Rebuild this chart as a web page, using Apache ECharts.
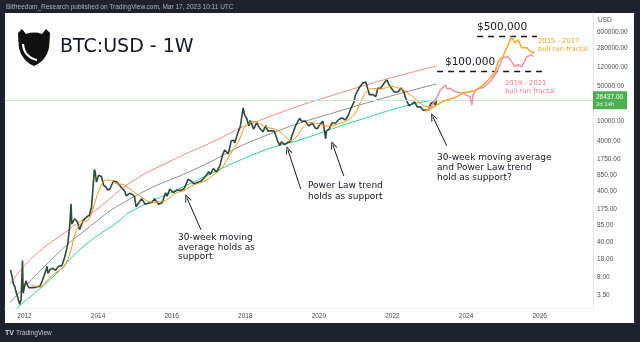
<!DOCTYPE html>
<html><head><meta charset="utf-8">
<script src="https://cdn.jsdelivr.net/npm/echarts@6/dist/echarts.min.js"></script>
<style>html,body{margin:0;padding:0;background:#1e222d;}#c{width:640px;height:342px;}</style>
</head><body><div id="c"></div>
<script>
// ---------- DATA ----------
const xTickYears = [2012, 2014, 2016, 2018, 2020, 2022, 2024, 2026];
const yTickValues = [3.5, 8, 18, 40, 85, 175, 400, 850, 1750, 4000, 10000, 50000, 120000, 280000, 600000];
const currentPrice = 26437;
const priceCountdown = '2d 14h';

const priceData = [
['2011-08-15',11],['2011-08-29',8.5],['2011-09-12',5.8],['2011-09-26',5.2],['2011-10-10',4.0],['2011-10-24',3.2],['2011-11-07',3.0],['2011-11-14',2.3],['2011-11-28',2.8],['2011-12-05',3.0],['2011-12-12',17],['2011-12-19',3.8],
['2012-01-02',5.3],['2012-01-16',6.7],['2012-01-30',5.6],['2012-02-13',4.9],['2012-03-05',4.9],['2012-04-02',4.9],['2012-05-07',5.1],['2012-06-04',5.3],['2012-06-25',6.7],['2012-07-16',8.8],['2012-08-13',13],['2012-08-20',9.5],['2012-09-10',11.2],['2012-10-08',11.9],['2012-11-05',10.9],['2012-12-03',13],
['2013-01-07',13.5],['2013-02-04',20],['2013-03-04',34],['2013-03-25',80],['2013-04-08',230],['2013-04-15',90],['2013-05-13',115],['2013-06-10',100],['2013-07-01',70],['2013-08-05',105],['2013-09-09',125],['2013-10-07',135],['2013-10-28',200],['2013-11-18',700],['2013-11-25',1100],['2013-12-02',1000],['2013-12-16',620],
['2014-01-06',850],['2014-02-03',800],['2014-02-24',540],['2014-03-24',480],['2014-04-07',430],['2014-04-28',450],['2014-06-02',650],['2014-07-07',620],['2014-08-18',490],['2014-09-22',410],['2014-10-06',330],['2014-11-10',370],['2014-12-08',350],['2014-12-29',315],
['2015-01-12',200],['2015-02-02',230],['2015-03-09',290],['2015-04-13',225],['2015-05-18',235],['2015-06-22',245],['2015-07-13',290],['2015-08-24',225],['2015-09-28',240],['2015-11-02',380],['2015-11-16',325],['2015-12-14',450],
['2016-01-18',380],['2016-02-22',430],['2016-03-28',420],['2016-05-02',450],['2016-06-13',700],['2016-07-11',650],['2016-08-08',570],['2016-09-12',610],['2016-10-17',640],['2016-11-14',730],['2016-12-19',900],
['2017-01-02',1000],['2017-01-16',880],['2017-02-20',1150],['2017-03-20',980],['2017-04-24',1300],['2017-05-22',2200],['2017-06-12',2700],['2017-07-17',2250],['2017-08-14',4100],['2017-09-11',4200],['2017-09-18',3700],['2017-10-16',5700],['2017-11-13',8000],['2017-12-11',18500],['2017-12-25',13500],
['2018-01-15',11500],['2018-02-05',8200],['2018-02-19',10400],['2018-03-26',7000],['2018-04-23',9400],['2018-05-21',7500],['2018-06-25',6200],['2018-07-23',8200],['2018-08-13',6400],['2018-09-17',6500],['2018-10-15',6400],['2018-11-19',4000],['2018-12-10',3300],['2018-12-24',3900],
['2019-01-28',3450],['2019-02-25',3800],['2019-03-25',4000],['2019-04-08',5100],['2019-05-13',8000],['2019-06-24',11500],['2019-07-15',10000],['2019-08-19',10200],['2019-09-23',8100],['2019-10-28',9200],['2019-11-25',7400],['2019-12-16',7100],
['2020-01-13',8800],['2020-02-10',10000],['2020-03-09',4500],['2020-03-16',6400],['2020-04-13',7100],['2020-05-11',9300],['2020-06-15',9300],['2020-07-20',11000],['2020-08-17',11700],['2020-09-21',10700],['2020-10-19',13100],['2020-11-16',18400],['2020-12-14',23800],['2020-12-28',33000],
['2021-01-11',36000],['2021-02-08',48000],['2021-02-22',46000],['2021-03-15',58000],['2021-04-12',61000],['2021-05-17',34000],['2021-06-21',34000],['2021-07-19',31000],['2021-08-09',46000],['2021-09-06',45000],['2021-09-20',43000],['2021-10-18',61000],['2021-11-08',66000],['2021-12-06',50000],
['2022-01-03',42000],['2022-01-24',38000],['2022-02-28',38800],['2022-03-28',46000],['2022-04-25',38500],['2022-05-09',30000],['2022-06-13',20500],['2022-07-18',22500],['2022-08-08',24400],['2022-09-05',19300],['2022-10-03',19400],['2022-11-07',16500],['2022-12-05',17100],['2022-12-26',16600],
['2023-01-16',22700],['2023-02-13',24300],['2023-03-06',20500],['2023-03-13',26437]
];

const ma30Data = [
['2012-03-05',5.6],['2012-06-01',5.0],['2012-09-01',7.5],['2012-12-01',10.5],['2013-02-01',13],['2013-04-01',25],['2013-06-01',70],['2013-08-01',100],['2013-10-01',110],['2013-12-01',250],
['2014-01-15',450],['2014-03-01',650],['2014-05-01',680],['2014-07-01',570],['2014-09-01',560],['2014-11-01',470],['2015-01-01',380],['2015-03-01',320],['2015-05-01',260],['2015-07-01',245],['2015-09-01',250],['2015-11-01',265],
['2016-01-01',330],['2016-03-01',390],['2016-05-01',415],['2016-07-01',500],['2016-09-01',570],['2016-11-01',620],['2017-01-01',720],['2017-03-01',880],['2017-05-01',1100],['2017-07-01',1700],['2017-09-01',2700],['2017-11-01',4200],['2017-12-15',7000],
['2018-02-01',9000],['2018-04-01',10000],['2018-06-01',8800],['2018-08-01',7600],['2018-10-01',7200],['2018-12-01',6400],['2019-02-01',5000],['2019-04-01',4100],['2019-06-01',5200],['2019-08-01',7800],['2019-10-01',9500],['2019-12-01',9200],
['2020-02-01',8500],['2020-04-01',8000],['2020-06-01',8400],['2020-08-01',9200],['2020-10-01',10200],['2020-12-01',12500],['2021-01-15',17000],['2021-03-01',27000],['2021-05-01',42000],['2021-07-01',45000],['2021-09-01',44000],['2021-11-01',47000],['2021-12-15',50000],
['2022-02-01',48000],['2022-04-01',44000],['2022-06-01',37000],['2022-08-01',30000],['2022-10-01',23000],['2022-12-01',19800],['2023-02-01',19500],['2023-03-13',20500]
];

const bandTopData = [['2011-08-09',5.8],['2012-03-26',20],['2013-02-26',66],['2014-01-19',198],['2014-11-13',596],['2015-11-14',1490],['2017-03-26',4290],['2018-02-17',8900],['2020-11-07',42500],['2023-03-17',127000]];
const bandMidData = [['2011-08-09',2.43],['2012-09-10',16.6],['2013-08-04',63],['2014-11-13',286],['2016-10-08',1240],['2018-05-26',4700],['2020-11-07',18600],['2023-03-17',55800]];
const bandLowData = [['2011-08-29',1.53],['2011-10-19',1.93],['2012-09-10',7.0],['2013-08-04',31.6],['2014-08-08',109],['2014-11-13',157],['2016-04-23',495],['2018-05-26',2470],['2019-06-28',4290],['2020-11-07',9330],['2022-06-21',21300],['2023-03-17',26800]];

const fractal1921 = [['2022-11-21',16000],['2023-01-08',18500],['2023-03-01',26000],['2023-04-15',40000],['2023-06-06',53000],['2023-07-01',44000],['2023-07-24',46000],['2023-09-01',40000],['2023-10-01',38000],['2023-12-02',37000],['2024-01-10',33000],['2024-02-10',31000],['2024-02-28',21000],['2024-03-10',33000],['2024-03-29',39000],['2024-04-20',44000],['2024-06-18',47000],['2024-08-26',61000],['2024-10-16',84000],['2024-11-14',110000],['2024-12-03',134000],['2025-01-01',184000],['2025-02-21',193000],['2025-03-29',153000],['2025-05-01',122000],['2025-05-30',134000],['2025-07-09',122000],['2025-08-25',193000],['2025-10-16',211000],['2025-10-27',193000]];
const fractal1517 = [['2022-11-21',16000],['2023-01-08',17500],['2023-03-17',21000],['2023-05-01',24000],['2023-06-06',26000],['2023-08-01',28000],['2023-10-01',30800],['2023-12-02',37000],['2024-02-10',38700],['2024-04-20',42500],['2024-06-18',53000],['2024-08-26',72000],['2024-10-16',97000],['2024-11-14',153000],['2024-12-03',170000],['2025-01-01',193000],['2025-02-21',334000],['2025-03-29',482000],['2025-05-01',366000],['2025-05-30',420000],['2025-07-09',291000],['2025-08-25',291000],['2025-10-16',232000],['2025-11-14',243000]];

const targetLevels = [
  {value: 500000, from: '2024-04-20', to: '2025-12-05'},
  {value: 100000, from: '2023-03-20', to: '2026-02-10'}
];
// annotation arrows: tail -> tip (date, price)
const arrows = [
  [['2016-10-19', 69], ['2016-06-01', 299]],
  [['2019-07-05', 453], ['2019-02-28', 2700]],
  [['2020-09-05', 820], ['2020-05-19', 3400]],
  [['2023-06-24', 3250], ['2023-02-06', 12300]]
];

// ---------- HELPERS ----------
function yr(d) {
  const p = d.split('-').map(Number);
  const start = Date.UTC(p[0], 0, 1), end = Date.UTC(p[0] + 1, 0, 1);
  return p[0] + (Date.UTC(p[0], p[1] - 1, p[2]) - start) / (end - start);
}
const toXY = arr => arr.map(r => [yr(r[0]), r[1]]);

// ---------- CHART ----------
const chevron = 'path://M0,10L5,0L10,10L8.6,10L5,2.8L1.4,10Z';
const axisFont = 'Liberation Sans';
const annFont = 'DejaVu Sans';

const option = {
  animation: false,
  backgroundColor: '#1e222d',
  grid: {left: 5, right: 47, top: 13, bottom: 34},
  xAxis: {
    type: 'value',
    min: 2011.47, max: 2027.45,
    splitLine: {show: false},
    axisLine: {show: true, onZero: false, lineStyle: {color: '#f0f1f4'}},
    axisTick: {show: false},
    axisLabel: {
      customValues: xTickYears,
      formatter: v => String(Math.round(v)),
      fontSize: 6.5, color: '#4a4d57', fontFamily: axisFont, margin: 5
    }
  },
  yAxis: {
    type: 'log', logBase: 10, position: 'right',
    min: 1.93, max: 1435000,
    splitLine: {show: false},
    axisLine: {show: true, lineStyle: {color: '#e3e5ea'}},
    axisTick: {show: false},
    axisLabel: {
      customValues: yTickValues,
      formatter: v => Number(v).toFixed(2),
      fontSize: 6.5, color: '#4a4d57', fontFamily: axisFont, margin: 4
    }
  },
  graphic: [
    {type: 'rect', z: -10, silent: true, shape: {x: 5, y: 13, width: 629, height: 310}, style: {fill: '#ffffff'}},
    {type: 'text', z: 10, style: {text: 'Bitfreedom_Research published on TradingView.com, Mar 17, 2023 10:11 UTC', x: 6, y: 7, verticalAlign: 'middle', fill: '#b2b5be', font: '6.5px ' + axisFont}},
    {type: 'text', z: 10, style: {text: 'USD', x: 598, y: 20, verticalAlign: 'middle', fill: '#4a4d57', font: '6.5px ' + axisFont}},
    {type: 'text', z: 10, style: {text: 'TV', x: 5, y: 333, verticalAlign: 'middle', fill: '#d1d4dc', font: 'bold 7px ' + axisFont}},
    {type: 'text', z: 10, style: {text: 'TradingView', x: 16, y: 333, verticalAlign: 'middle', fill: '#c4c7cf', font: '6.5px ' + axisFont}},
    // logo
    {type: 'polygon', z: 10, shape: {points: [[18,33],[22,29],[26,34],[30,32.8],[34,32.5],[38,32.8],[42,34],[46,29],[50,33],[49.6,41],[49,48],[47,54],[43,60],[38,64],[34,66],[30,64],[25,60],[21,54],[19,48],[18.4,41]]}, style: {fill: '#111111'}},
    {type: 'bezierCurve', z: 11, shape: {x1: 23, y1: 44, x2: 37, y2: 60, cpx1: 24, cpy1: 57}, style: {stroke: '#ffffff', lineWidth: 2.2, fill: null}},
    {type: 'text', z: 10, style: {text: 'BTC:USD - 1W', x: 60, y: 47, verticalAlign: 'middle', fill: '#131722', font: '19px ' + annFont}},
    // annotations
    {type: 'text', z: 10, style: {text: '30-week moving\naverage holds as\nsupport', x: 178, y: 233, verticalAlign: 'top', lineHeight: 9.5, fill: '#131722', font: '9px ' + annFont}},
    {type: 'text', z: 10, style: {text: 'Power Law trend\nholds as support', x: 308, y: 180.5, verticalAlign: 'top', lineHeight: 10.7, fill: '#131722', font: '9px ' + annFont}},
    {type: 'text', z: 10, style: {text: '30-week moving average\nand Power Law trend\nhold as support?', x: 437, y: 153, verticalAlign: 'top', lineHeight: 10, fill: '#131722', font: '9px ' + annFont}},
    {type: 'text', z: 10, style: {text: '$500,000', x: 477, y: 27, verticalAlign: 'middle', fill: '#131722', font: '10.5px ' + annFont}},
    {type: 'text', z: 10, style: {text: '$100,000', x: 445, y: 62, verticalAlign: 'middle', fill: '#131722', font: '10.5px ' + annFont}},
    {type: 'text', z: 10, style: {text: '2015 - 2017\nbull run fractal', x: 538, y: 37, verticalAlign: 'top', lineHeight: 8, fill: '#f5a623', font: '6.8px ' + annFont}},
    {type: 'text', z: 10, style: {text: '2019 - 2021\nbull run fractal', x: 505, y: 79, verticalAlign: 'top', lineHeight: 8, fill: '#f07a8c', font: '6.8px ' + annFont}}
  ],
  series: [
    {type: 'line', name: 'top', data: toXY(bandTopData), smooth: true, showSymbol: false, lineStyle: {color: '#f28b86', width: 1}, z: 2},
    {type: 'line', name: 'mid', data: toXY(bandMidData), smooth: true, showSymbol: false, lineStyle: {color: '#8c8f96', width: 1}, z: 2},
    {type: 'line', name: 'low', data: toXY(bandLowData), smooth: true, showSymbol: false, lineStyle: {color: '#2fd08e', width: 1}, z: 2},
    {type: 'line', name: 'price', data: toXY(priceData), showSymbol: false, lineStyle: {color: '#2e4a37', width: 1.6}, z: 3,
      markLine: {silent: true, symbol: ['none', 'none'], animation: false,
        data: [{yAxis: currentPrice}],
        lineStyle: {color: '#c6eacd', width: 1, type: 'solid'},
        label: {show: true, position: 'end', distance: 0, formatter: '{a|' + currentPrice.toFixed(2) + '}\n{b|' + priceCountdown + '}',
          backgroundColor: '#4caf50', padding: [2, 4, 1, 3],
          rich: {a: {color: '#ffffff', fontSize: 6.5, fontFamily: axisFont, lineHeight: 8}, b: {color: '#e8f5e9', fontSize: 6, fontFamily: axisFont, lineHeight: 7}}}
      }
    },
    {type: 'line', name: 'ma30', data: toXY(ma30Data), smooth: 0.3, showSymbol: false, lineStyle: {color: '#f7931e', width: 1}, z: 4},
    {type: 'line', name: 'f1921', data: toXY(fractal1921), showSymbol: false, lineStyle: {color: '#f4909f', width: 1.5}, z: 5},
    {type: 'line', name: 'f1517', data: toXY(fractal1517), showSymbol: false, lineStyle: {color: '#f7aa2e', width: 1.6}, z: 6},
    {type: 'line', name: 'levels', data: [], z: 7,
      markLine: {silent: true, symbol: ['none', 'none'], animation: false, label: {show: false},
        lineStyle: {color: '#131722', width: 1.4, type: [6, 5]},
        data: targetLevels.map(l => [{coord: [yr(l.from), l.value]}, {coord: [yr(l.to), l.value]}])
      }
    },
    {type: 'line', name: 'arrows', data: [], z: 8,
      markLine: {silent: true, animation: false, label: {show: false},
        symbol: ['none', chevron], symbolSize: [7, 8],
        lineStyle: {color: '#131722', width: 1, type: 'solid'},
        data: arrows.map(a => [{coord: [yr(a[0][0]), a[0][1]]}, {coord: [yr(a[1][0]), a[1][1]]}])
      }
    }
  ]
};
const chart = echarts.init(document.getElementById('c'));
chart.setOption(option);
</script></body></html>
